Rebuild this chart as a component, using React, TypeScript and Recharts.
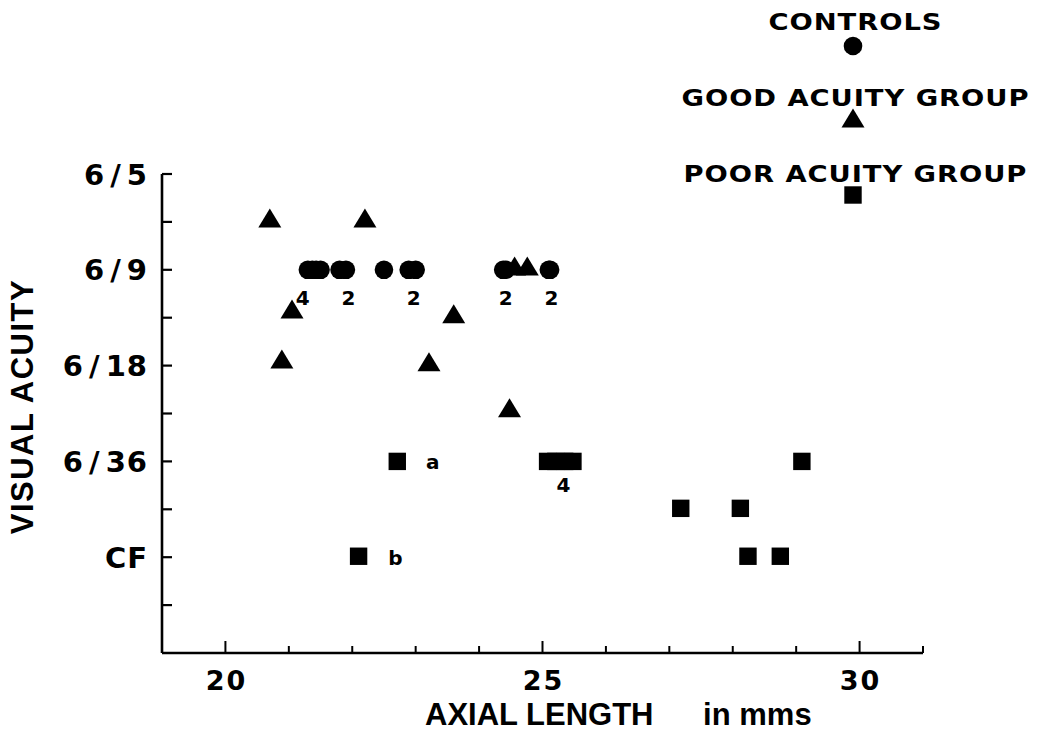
import { Legend, Scatter, ScatterChart, XAxis, YAxis } from "recharts";

const FONT = "'Liberation Sans', Arial, Helvetica, sans-serif";
const WIDE = "'DejaVu Sans', 'Liberation Sans', Arial, sans-serif";

// acuity steps on the y scale: 1 = CF ... 5 = 6/5
const Y_TICKS = [0.5, 1, 1.5, 2, 2.5, 3, 3.5, 4, 4.5, 5];
const Y_LABELS: Record<number, string> = { 1: "CF", 2: "6/36", 3: "6/18", 4: "6/9", 5: "6/5" };
const X_TICKS = [20, 21, 22, 23, 24, 25, 26, 27, 28, 29, 30, 31];
const X_LABELS = [20, 25, 30];

const SERIES_NAMES = ["CONTROLS", "GOOD ACUITY GROUP", "POOR ACUITY GROUP"];

const controls = [
  { x: 21.3, y: 4 },
  { x: 21.37, y: 4 },
  { x: 21.43, y: 4 },
  { x: 21.5, y: 4 },
  { x: 21.8, y: 4 },
  { x: 21.9, y: 4 },
  { x: 22.5, y: 4 },
  { x: 22.89, y: 4 },
  { x: 23.0, y: 4 },
  { x: 24.38, y: 4 },
  { x: 24.42, y: 4 },
  { x: 25.1, y: 4 },
  { x: 25.12, y: 4 },
];

const goodAcuity = [
  { x: 20.7, y: 4.54 },
  { x: 22.2, y: 4.54 },
  { x: 21.05, y: 3.59 },
  { x: 20.89, y: 3.07 },
  { x: 23.6, y: 3.54 },
  { x: 23.21, y: 3.04 },
  { x: 24.48, y: 2.56 },
  { x: 24.56, y: 4.04 },
  { x: 24.76, y: 4.04 },
];

const poorAcuity = [
  { x: 22.71, y: 2.0 },
  { x: 22.1, y: 1.01 },
  { x: 25.08, y: 2.0 },
  { x: 25.21, y: 2.0 },
  { x: 25.35, y: 2.0 },
  { x: 25.48, y: 2.0 },
  { x: 29.09, y: 2.0 },
  { x: 27.18, y: 1.51 },
  { x: 28.12, y: 1.51 },
  { x: 28.24, y: 1.01 },
  { x: 28.75, y: 1.01 },
];

// counts of coincident points and case letters
const notes = [
  { x: 21.22, y: 3.71, text: "4" },
  { x: 21.94, y: 3.71, text: "2" },
  { x: 22.97, y: 3.71, text: "2" },
  { x: 24.42, y: 3.71, text: "2" },
  { x: 25.14, y: 3.71, text: "2" },
  { x: 25.33, y: 1.76, text: "4" },
  { x: 23.27, y: 2.0, text: "a" },
  { x: 22.68, y: 1.0, text: "b" },
];

const drawCircle = (cx: number, cy: number, key?: string) => (
  <circle key={key} cx={cx} cy={cy} r={9.3} fill="#000" />
);
const drawTriangle = (cx: number, cy: number, key?: string) => (
  <polygon key={key} points={`${cx},${cy - 9.5} ${cx + 11.5},${cy + 9.5} ${cx - 11.5},${cy + 9.5}`} fill="#000" />
);
const drawSquare = (cx: number, cy: number, key?: string) => (
  <rect key={key} x={cx - 8.7} y={cy - 8.7} width={17.4} height={17.4} fill="#000" />
);

const MARKERS = [drawCircle, drawTriangle, drawSquare];

const XTick = (props: any) => {
  const { x, y, payload } = props;
  const major = X_LABELS.includes(payload.value);
  return (
    <g>
      <line x1={x} x2={x} y1={y} y2={y - (major ? 12 : 7)} stroke="#000" strokeWidth={2} />
      {major && (
        <text x={x + 1} y={y + 37} textAnchor="middle" fontFamily={WIDE} fontWeight="bold" fontSize={27} letterSpacing={2} fill="#000">
          {payload.value}
        </text>
      )}
    </g>
  );
};

const YTick = (props: any) => {
  const { x, y, payload } = props;
  const label = Y_LABELS[payload.value];
  const parts = label ? label.split("/") : [];
  return (
    <g>
      <line x1={x} x2={x + 10} y1={y} y2={y} stroke="#000" strokeWidth={2.2} />
      {label && (
        <text x={x - 15 + 1} y={y + 10.5} textAnchor="end" fontFamily={WIDE} fontWeight="bold" fontSize={29} letterSpacing={1} fill="#000">
          {parts.length === 2 ? (
            <>
              <tspan>{parts[0]}</tspan>
              <tspan dx={5}>/</tspan>
              <tspan dx={5}>{parts[1]}</tspan>
            </>
          ) : (
            label
          )}
        </text>
      )}
    </g>
  );
};

const XLabel = (props: any) => {
  const vb = props.viewBox ?? { x: 162, y: 653, width: 761, height: 79 };
  return (
    <text x={vb.x + 263} y={vb.y + 72} fontFamily={FONT} fontWeight="bold" fontSize={31} fill="#000">
      <tspan>AXIAL LENGTH</tspan>
      <tspan dx={41}> in mms</tspan>
    </text>
  );
};

const YLabel = (props: any) => {
  const vb = props.viewBox ?? { x: 0, y: 174, width: 162, height: 479 };
  const cx = vb.x + 21.5;
  const cy = vb.y + vb.height / 2 - 7;
  return (
    <text
      x={cx}
      y={cy + 11}
      transform={`rotate(-90 ${cx} ${cy})`}
      textAnchor="middle"
      fontFamily={FONT}
      fontWeight="bold"
      fontSize={31}
      letterSpacing={1.5}
      fill="#000"
    >
      VISUAL ACUITY
    </text>
  );
};

const LegendContent = (props: any) => {
  const payload = (props.payload ?? []).filter((p: any) => SERIES_NAMES.includes(p.value));
  const markerOffset = [16, 12, 13];
  return (
    <svg width={1037} height={215} style={{ display: "block" }}>
      {payload.map((entry: any) => {
        const i = SERIES_NAMES.indexOf(entry.value);
        const base = 30 + i * 76;
        return (
          <g key={entry.value}>
            <g transform={`translate(855 ${base}) scale(1.165 1)`}>
              <text x={0.4} y={0} textAnchor="middle" fontFamily={WIDE} fontWeight="bold" fontSize={23.5} letterSpacing={0.8} fill="#000">
                {entry.value}
              </text>
            </g>
            {MARKERS[i](853, base + markerOffset[i])}
          </g>
        );
      })}
    </svg>
  );
};

const NoteShape = (props: any) => {
  const { cx, cy, payload } = props;
  return (
    <text x={cx} y={cy + 7.5} textAnchor="middle" fontFamily={WIDE} fontWeight="bold" fontSize={20} fill="#000">
      {payload.text}
    </text>
  );
};

export default function App() {
  return (
    <div style={{ position: "absolute", left: 0, top: 0, width: 1037, height: 732, background: "#fff" }}>
      <ScatterChart width={1037} height={732} margin={{ top: 174, right: 114, bottom: 0, left: 0 }}>
        <XAxis
          type="number"
          dataKey="x"
          domain={[19, 31]}
          ticks={X_TICKS}
          allowDataOverflow
          height={79}
          tickSize={0}
          tickMargin={0}
          tickLine={false}
          tick={<XTick />}
          axisLine={{ stroke: "#000", strokeWidth: 2.6 }}
          label={XLabel}
        />
        <YAxis
          type="number"
          dataKey="y"
          domain={[0, 5]}
          ticks={Y_TICKS}
          allowDataOverflow
          width={162}
          tickSize={0}
          tickMargin={0}
          tickLine={false}
          tick={<YTick />}
          axisLine={{ stroke: "#000", strokeWidth: 2.6 }}
          label={YLabel}
        />
        <Legend
          layout="horizontal"
          verticalAlign="middle"
          align="center"
          wrapperStyle={{ position: "absolute", left: 0, top: 0, width: 1037, height: 215 }}
          content={<LegendContent />}
        />
        <Scatter
          name={SERIES_NAMES[0]}
          data={controls}
          isAnimationActive={false}
          shape={(p: any) => drawCircle(p.cx, p.cy)}
        />
        <Scatter
          name={SERIES_NAMES[1]}
          data={goodAcuity}
          isAnimationActive={false}
          shape={(p: any) => drawTriangle(p.cx, p.cy)}
        />
        <Scatter
          name={SERIES_NAMES[2]}
          data={poorAcuity}
          isAnimationActive={false}
          shape={(p: any) => drawSquare(p.cx, p.cy)}
        />
        <Scatter name="notes" data={notes} legendType="none" isAnimationActive={false} shape={<NoteShape />} />
      </ScatterChart>
    </div>
  );
}
